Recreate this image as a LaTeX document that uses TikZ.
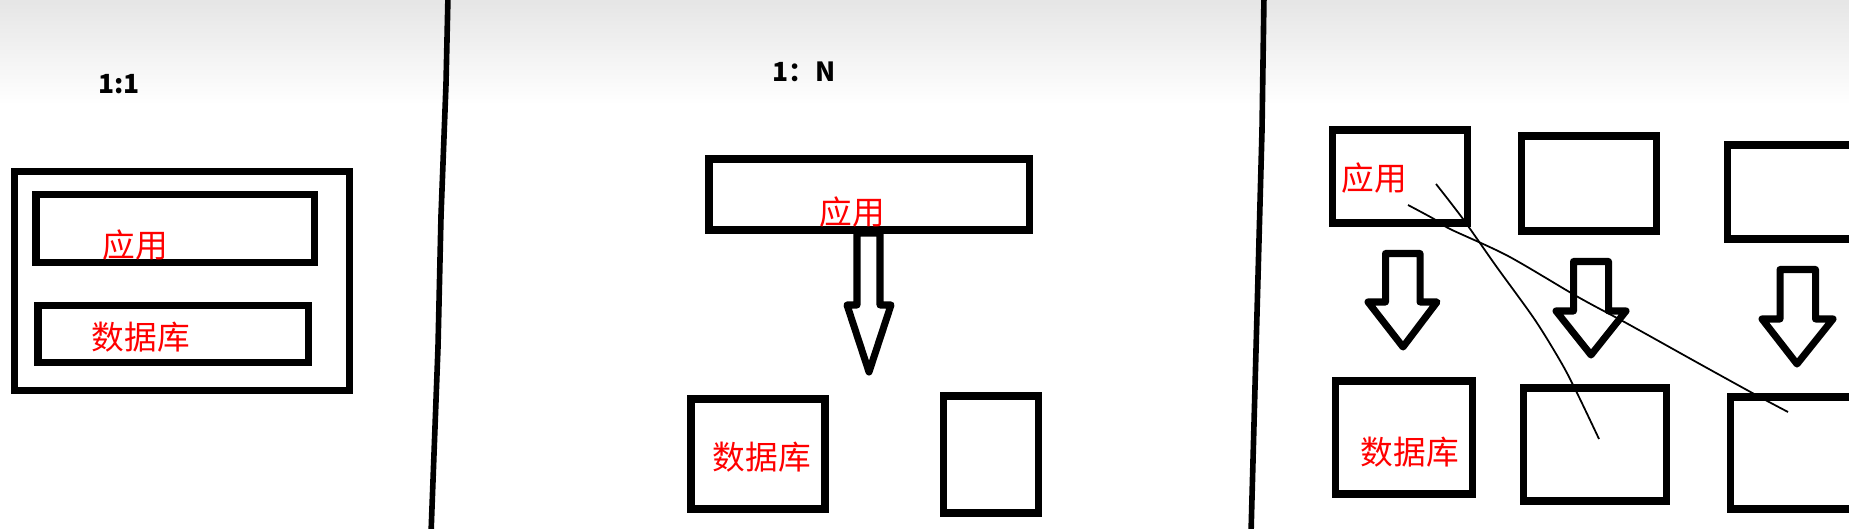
\documentclass[tikz,border=0pt]{standalone}
\usepackage{fontspec}
\newfontfamily\cjk{Noto Sans CJK SC}
\begin{document}
\begin{tikzpicture}[x=0.1mm,y=-0.1mm,
        box/.style={draw,line width=2pt},
        blockarrow/.style={draw,line width=2pt,line join=round},
        divider/.style={draw,line width=1.6pt},
        scribble/.style={draw,line width=0.5pt},
        lbl/.style={text=red,font=\cjk\fontsize{9.3}{10}\selectfont,inner sep=0pt},
        ratio/.style={font=\cjk\bfseries\fontsize{7.5}{9}\selectfont,inner sep=0pt}]
        \useasboundingbox (0,0) rectangle (1849,529);
        \clip (0,0) rectangle (1849,529);
        \shade[top color=gray!20,bottom color=white] (0,0) rectangle (1849,105);

        % 1:1
        \node[ratio] (r1) at (119,84) {1:1};
        \path[box] (14.5,171.5) rectangle (349.5,390.5);
        \path[box] (36,194.5) rectangle (314.5,262.5);
        \path[box] (38,305.5) rectangle (308.5,362.5);
        \node[lbl] (app1) at (135,245) {应用};
        \node[lbl] (db1) at (141,337) {数据库};

        \path[divider] (448,-5) -- (446,84) -- (441,216) -- (438,347) -- (431,534);

        % 1:N
        \node[ratio] (r2) at (804,72) {1：N};
        \path[box] (709,159) rectangle (1029,230);
        \node[lbl] (app2) at (852,212) {应用};
        \path[blockarrow] (857,233) -- (857,305) -- (847,305) -- (869,372) -- (891,305) -- (880,305) -- (880,233) -- cycle;
        \path[box] (691,399) rectangle (825,509);
        \node[lbl] (db2) at (762,457) {数据库};
        \path[box] (943,396) rectangle (1038,513);

        \path[divider] (1264,-5) -- (1262,130) -- (1256,350) -- (1251,534);

        % N:N
        \path[box] (1332,130) rectangle (1467,223);
        \path[box] (1521,136) rectangle (1656,231);
        \path[box] (1727,145) rectangle (1870,239);
        \node[lbl] (app3) at (1374,178) {应用};

        \path[blockarrow] (1385.5,253.5) -- (1385.5,302) -- (1368,302) -- (1403,347) -- (1437,302) -- (1420,302) -- (1420,253.5) -- cycle;
        \path[blockarrow] (1573.5,261.5) -- (1573.5,311) -- (1556,311) -- (1591,355) -- (1626,311) -- (1608.5,311) -- (1608.5,261.5) -- cycle;
        \path[blockarrow] (1780,269.5) -- (1780,319) -- (1762,319) -- (1797,364) -- (1833,319) -- (1815.5,319) -- (1815.5,269.5) -- cycle;

        \path[box] (1335,381) rectangle (1472,494);
        \path[box] (1523,388) rectangle (1666,501);
        \path[box] (1730,397) rectangle (1870,509);
        \node[lbl] (db3) at (1410,452) {数据库};

        \path[scribble] plot[smooth] coordinates {(1436,184) (1463,219) (1496,266) (1535,320) (1562,364) (1578,395) (1599,439)};
        \path[scribble] plot[smooth] coordinates {(1408,205) (1434,219) (1450,229) (1508,256) (1578,297) (1628,324) (1698,363) (1756,395) (1788,412)};
    \end{tikzpicture}
\end{document}
